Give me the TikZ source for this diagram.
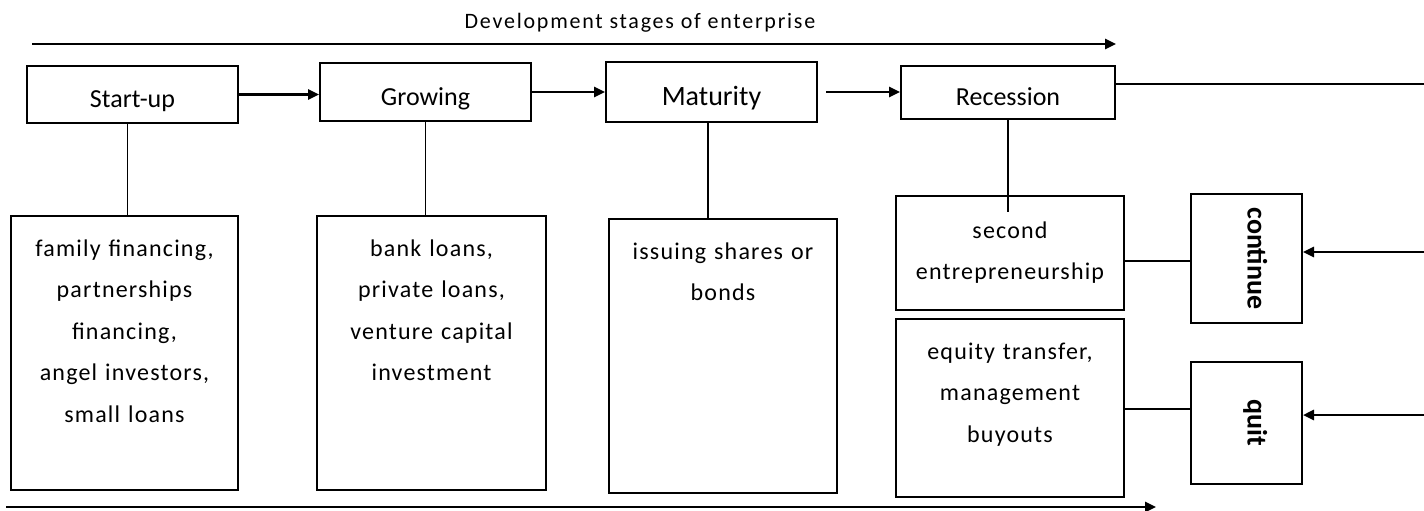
\documentclass[tikz,border=0pt]{standalone}
\usepackage{fontspec}
\setmainfont{Carlito}
\newfontfamily\spaced{Carlito}[LetterSpace=5]
\newfontfamily\titlefont{Carlito}[LetterSpace=8]
\usetikzlibrary{arrows.meta}

\begin{document}
\begin{tikzpicture}[x=1pt,y=-1pt,
  stagebox/.style={shape=rectangle,draw=black,line width=2pt,inner sep=0pt,text height=26pt,text depth=0pt,font=\fontsize{26}{30}\selectfont},
  fundbox/.style={shape=rectangle,draw=black,line width=2pt,inner sep=0pt,anchor=north,align=center,text height=40pt,font=\spaced\fontsize{24}{41.5}\selectfont},
  choicebox/.style={shape=rectangle,draw=black,line width=2pt,inner sep=0pt,rotate=-90,minimum height=111pt,text height=17pt,text depth=19pt,font=\bfseries\fontsize{28}{32}\selectfont},
  flow/.style={line width=2.5pt,-{Triangle[length=11pt,width=10pt]}},
  link/.style={line width=1.5pt}]
\useasboundingbox (0,0) rectangle (1424,511);
\node[font=\titlefont\fontsize{22}{26}\selectfont,anchor=base] (title) at (640,29) {Development stages of enterprise};
\node[stagebox,minimum width=211pt,minimum height=57pt] (start) at (132.5,94.5) {Start-up};
\node[stagebox,minimum width=211pt,minimum height=58pt] (grow) at (425.5,92) {Growing};
\node[stagebox,minimum width=211pt,minimum height=60pt,font=\fontsize{28}{32}\selectfont] (mature) at (711.5,92) {Maturity};
\node[stagebox,minimum width=214pt,minimum height=53pt] (recess) at (1008,92.5) {Recession};
\node[fundbox,text width=227pt,text depth=234pt] (f1) at (124.5,215) {family financing,\\partnerships\\financing,\\angel investors,\\small loans};
\node[fundbox,text width=229pt,text depth=234pt] (f2) at (431.5,215) {bank loans,\\private loans,\\venture capital\\investment};
\node[fundbox,text width=228pt,text depth=234pt] (f3) at (723,218) {issuing shares or\\bonds};
\node[fundbox,text width=228pt,text height=42pt,text depth=72pt] (second) at (1010,195) {second\\entrepreneurship};
\node[fundbox,text width=228pt,text depth=138pt] (equity) at (1010,318) {equity transfer,\\management\\buyouts};
\node[choicebox,minimum width=129pt] (cont) at (1246.5,258.5) {continue};
\node[choicebox,minimum width=122pt] (quit) at (1246.5,423) {quit};
\coordinate (t1) at (32,44);
\coordinate (t2) at (1116,44);
\coordinate (b1) at (6,507);
\coordinate (b2) at (1156,507);
\coordinate (e1) at (1424,84);
\coordinate (e2) at (1424,252);
\coordinate (e3) at (1424,415);
\draw[flow] (t1) -- (t2);
\draw[flow] (b1) -- (b2);
\draw[flow] (start.east) -- (start.east -| grow.west);
\draw[flow] (grow.east) -- (grow.east -| mature.west);
\draw[flow] ([xshift=8pt]mature.east) -- (mature.east -| recess.west);
\draw[line width=2pt] (recess.east |- e1) -- (e1);
\draw[flow] (e2) -- (e2 -| cont.north);
\draw[flow] (e3) -- (e3 -| quit.north);
\draw[link] ([xshift=-5pt]start.south) -- ([xshift=-5pt]start.south |- f1.north);
\draw[link] (grow.south) -- (grow.south |- f2.north);
\draw[link] ([xshift=-3.5pt]mature.south) -- ([xshift=-3.5pt]mature.south |- f3.north);
\draw[link] (recess.south) -- ([yshift=-17pt]recess.south |- second.north);
\draw[link] (second.east |- 0,261) -- (cont.south |- 0,261);
\draw[link] (equity.east |- 0,409) -- (quit.south |- 0,409);
\end{tikzpicture}
\end{document}
